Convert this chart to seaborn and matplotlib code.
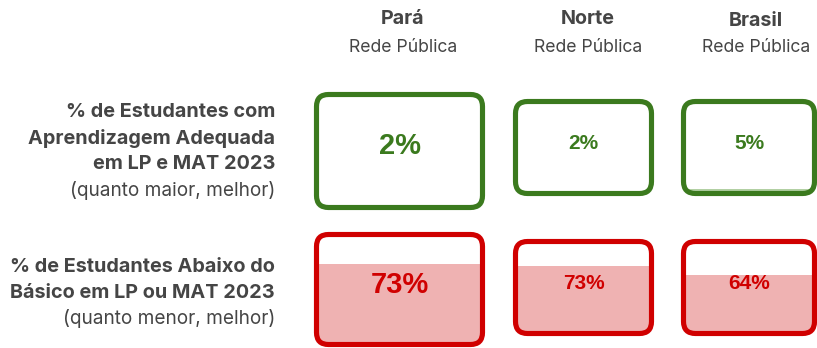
import matplotlib
matplotlib.use("Agg")
import matplotlib.pyplot as plt
from matplotlib.patches import FancyBboxPatch
import seaborn as sns

# --- data -------------------------------------------------------------
regions = ["Pará", "Norte", "Brasil"]
network = "Rede Pública"
adequate_pct = [2, 2, 5]          # % adequate learning in LP and MAT
below_basic_pct = [73, 73, 64]    # % below basic in LP or MAT

row1_title = ["% de Estudantes com", "Aprendizagem Adequada", "em LP e MAT 2023"]
row1_note = "(quanto maior, melhor)"
row2_title = ["% de Estudantes Abaixo do", "Básico em LP ou MAT 2023"]
row2_note = "(quanto menor, melhor)"

# --- style ------------------------------------------------------------
sns.set_theme(style="white")
plt.rcParams["font.family"] = ["Inter", "DejaVu Sans"]

W, H = 817, 348
fig = plt.figure(figsize=(W / 100, H / 100), dpi=100)
fig.patch.set_facecolor("white")

TEXT = "#454545"
GREEN, GREEN_FILL = "#3b7a1e", "#b2d0a3"
RED, RED_FILL = "#d00000", "#efb2b2"


def px_axes(x0, y0, x1, y1):
    return fig.add_axes([x0 / W, 1 - y1 / H, (x1 - x0) / W, (y1 - y0) / H])


def gauge(rect, value, edge, fill, fontsize, radius=12):
    x0, y0, x1, y1 = rect
    wpx, hpx = x1 - x0, y1 - y0
    ax = px_axes(*rect)
    sns.barplot(x=[0], y=[value], width=1, color=fill, saturation=1,
                ax=ax, linewidth=0)
    ax.set_xlim(-0.5, 0.5)
    ax.set_ylim(0, 100)
    ax.axis("off")
    border = FancyBboxPatch((0, 0), 1, 1,
                            boxstyle=f"round,pad=0,rounding_size={radius / wpx}",
                            mutation_aspect=wpx / hpx, transform=ax.transAxes,
                            facecolor="none", edgecolor=edge, linewidth=3.7,
                            clip_on=False, zorder=5)
    ax.add_patch(border)
    for bar in ax.patches:
        if bar is not border:
            bar.set_clip_path(border)
    ax.text(0.5, 0.54, f"{value}%", transform=ax.transAxes, ha="center",
            va="center", fontsize=fontsize, fontweight="bold", color=edge,
            family=["Liberation Sans", "DejaVu Sans"], zorder=6)
    return ax


# box frames (border centre line, pixels)
col_x = [(316.5, 482.5), (515.5, 651.5), (683.5, 814.5)]
row1_y = [(94.5, 207.5), (101.5, 193.5), (101.5, 193.5)]
row2_y = [(234.5, 344.5), (241.5, 333.5), (241.5, 333.5)]
value_fs = [21, 15, 15]

for i in range(3):
    gauge((col_x[i][0], row1_y[i][0], col_x[i][1], row1_y[i][1]),
          adequate_pct[i], GREEN, GREEN_FILL, value_fs[i])
    gauge((col_x[i][0], row2_y[i][0], col_x[i][1], row2_y[i][1]),
          below_basic_pct[i], RED, RED_FILL, value_fs[i])

# column headers
head_x = [403, 588, 756]
head_y = [19, 19, 21]
for name, hx, hy in zip(regions, head_x, head_y):
    fig.text(hx / W, 1 - hy / H, name, ha="center", va="center",
             fontsize=14.2, fontweight="bold", color=TEXT)
    fig.text(hx / W, 1 - 48 / H, network, ha="center", va="center",
             fontsize=12.7, color=TEXT)

# row labels
RX = 275 / W
for line, ly in zip(row1_title, [112, 138, 164]):
    fig.text(RX, 1 - ly / H, line, ha="right", va="center",
             fontsize=14.3, fontweight="bold", color=TEXT)
fig.text(RX, 1 - 190 / H, row1_note, ha="right", va="center",
         fontsize=13.7, color=TEXT)
for line, ly in zip(row2_title, [267, 293]):
    fig.text(RX, 1 - ly / H, line, ha="right", va="center",
             fontsize=14.3, fontweight="bold", color=TEXT)
fig.text(RX, 1 - 319 / H, row2_note, ha="right", va="center",
         fontsize=13.7, color=TEXT)

fig.savefig("out.png", dpi=100, facecolor="white")
